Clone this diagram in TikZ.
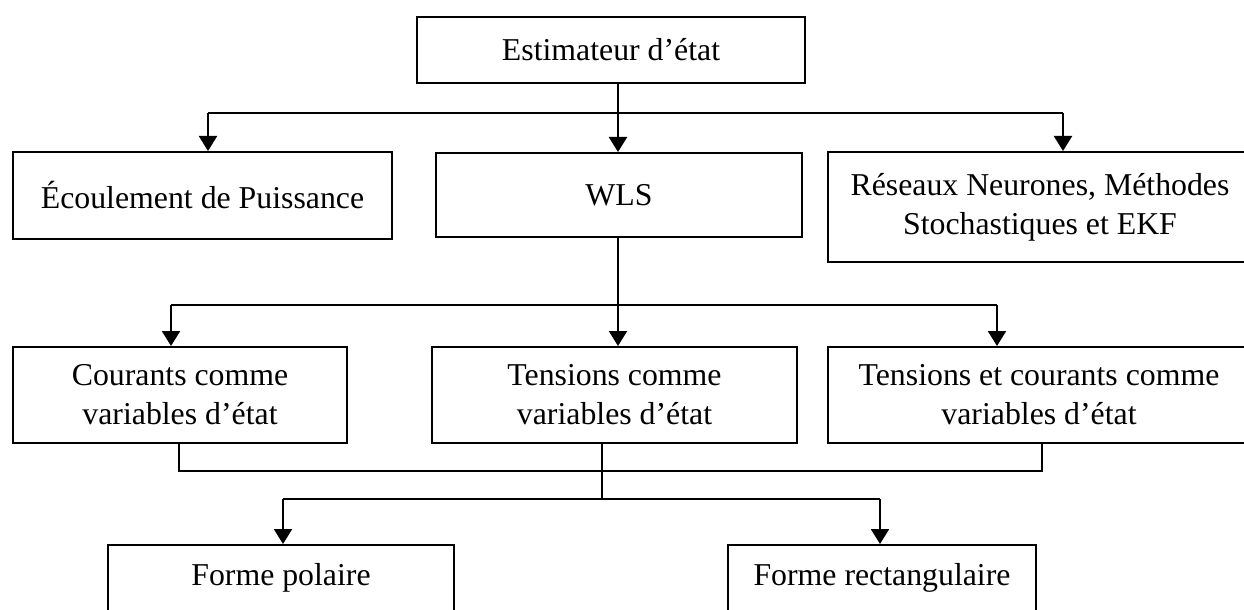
\documentclass[tikz,border=0pt]{standalone}
\usepackage{fontspec}
\setmainfont{Liberation Serif}
\usetikzlibrary{arrows.meta}
\begin{document}
\begin{tikzpicture}[x=0.5pt,y=-0.5pt,
  box/.style={draw, line width=1pt, inner sep=0pt, align=center,
    font=\fontsize{15.9}{19.5}\selectfont},
  conn/.style={line width=1pt},
  arr/.style={line width=1.1pt, -{Triangle[width=9pt,length=7.5pt]}}]
\useasboundingbox (0,0) rectangle (1244,610);
\fill[white] (0,0) rectangle (1244,610);
\clip (0,0) rectangle (1244,610);
% nodes
\node[box, minimum width=194pt, minimum height=33pt] (top) at (611,50) {Estimateur d’état};
\node[box, minimum width=189.5pt, minimum height=43.5pt] (ecoul) at (202.5,195.5) {Écoulement de Puissance};
\node[box, minimum width=183pt, minimum height=42pt] (wls) at (619,195) {WLS};
\node[box, minimum width=212pt, minimum height=55pt] (res) at (1040,207) {Réseaux Neurones, Méthodes\\Stochastiques et EKF};
\node[box, minimum width=167pt, minimum height=48pt] (cour) at (180,395) {Courants comme\\variables d’état};
\node[box, minimum width=182.5pt, minimum height=48pt] (tens) at (614.5,395) {Tensions comme\\variables d’état};
\node[box, minimum width=211pt, minimum height=48pt] (tc) at (1039,395) {Tensions et courants comme\\variables d’état};
\node[box, minimum width=173pt, minimum height=33pt] (pol) at (281,578) {Forme polaire};
\node[box, minimum width=154pt, minimum height=33pt] (rect) at (882,578) {Forme rectangulaire};
% level 1 connectors
\coordinate (h1l) at (208,113);
\coordinate (h1c) at (618,113);
\coordinate (h1r) at (1063,113);
\draw[conn] (top.south -| h1c) -- (h1c);
\draw[conn] (h1l) -- (h1r);
\draw[arr] (h1l) -- (ecoul.north -| h1l);
\draw[arr] (h1c) -- (wls.north -| h1c);
\draw[arr] (h1r) -- (res.north -| h1r);
% level 2 connectors
\coordinate (h2l) at (171,305);
\coordinate (h2c) at (618,305);
\coordinate (h2r) at (997,305);
\draw[conn] (wls.south -| h2c) -- (h2c);
\draw[conn] (h2l) -- (h2r);
\draw[arr] (h2l) -- (cour.north -| h2l);
\draw[arr] (h2c) -- (tens.north -| h2c);
\draw[arr] (h2r) -- (tc.north -| h2r);
% level 3 connectors
\coordinate (h3l) at (179,471);
\coordinate (h3r) at (1042,471);
\coordinate (h4l) at (283,499);
\coordinate (h4c) at (602,499);
\coordinate (h4r) at (880,499);
\draw[conn] (cour.south -| h3l) -- (h3l) -- (h3r) -- (tc.south -| h3r);
\draw[conn] (tens.south -| h4c) -- (h4c);
\draw[conn] (h4l) -- (h4r);
\draw[arr] (h4l) -- (pol.north -| h4l);
\draw[arr] (h4r) -- (rect.north -| h4r);
\end{tikzpicture}
\end{document}
